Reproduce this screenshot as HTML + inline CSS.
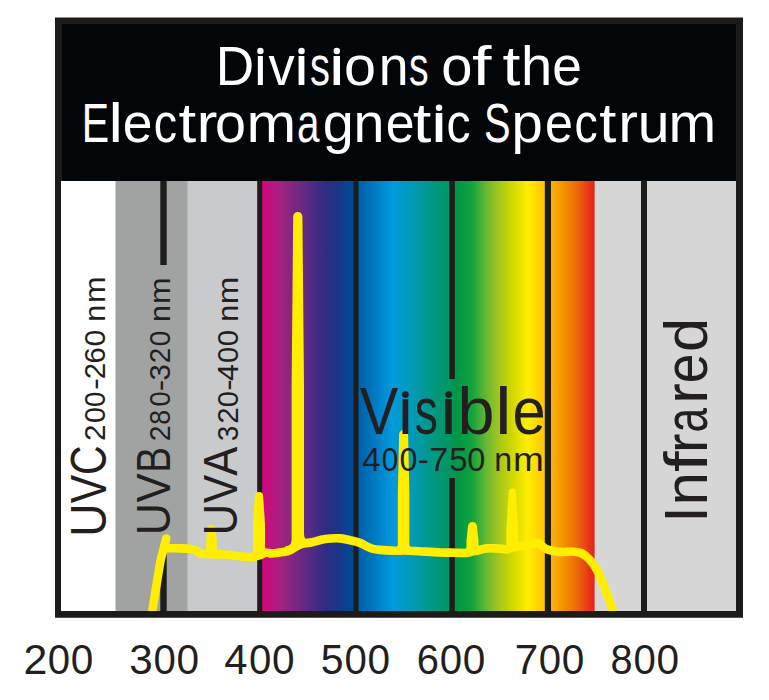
<!DOCTYPE html>
<html><head><meta charset="utf-8"><title>Divisions of the Electromagnetic Spectrum</title>
<style>
html,body{margin:0;padding:0;background:#fff;width:769px;height:700px;overflow:hidden}
svg{display:block}
text{font-family:"Liberation Sans",sans-serif}
</style></head><body>
<svg width="769" height="700" viewBox="0 0 769 700">
<defs>
<linearGradient id="gv" x1="262" x2="354" y1="0" y2="0" gradientUnits="userSpaceOnUse">
<stop offset="0.000" stop-color="#d4067e"/><stop offset="0.043" stop-color="#cc0a7e"/><stop offset="0.196" stop-color="#a42182"/><stop offset="0.299" stop-color="#8a2580"/><stop offset="0.522" stop-color="#552a84"/><stop offset="0.696" stop-color="#2e2c82"/><stop offset="0.848" stop-color="#183789"/><stop offset="0.957" stop-color="#034896"/><stop offset="1.000" stop-color="#004a98"/>
</linearGradient>
<linearGradient id="gb" x1="358" x2="450" y1="0" y2="0" gradientUnits="userSpaceOnUse">
<stop offset="0.000" stop-color="#005fab"/><stop offset="0.033" stop-color="#0063ae"/><stop offset="0.196" stop-color="#007dc5"/><stop offset="0.370" stop-color="#009ade"/><stop offset="0.522" stop-color="#009bc3"/><stop offset="0.674" stop-color="#0398a3"/><stop offset="0.826" stop-color="#019882"/><stop offset="0.946" stop-color="#009767"/><stop offset="1.000" stop-color="#009760"/>
</linearGradient>
<linearGradient id="gg" x1="454" x2="545" y1="0" y2="0" gradientUnits="userSpaceOnUse">
<stop offset="0.000" stop-color="#00944a"/><stop offset="0.044" stop-color="#009746"/><stop offset="0.198" stop-color="#12a33e"/><stop offset="0.352" stop-color="#66b932"/><stop offset="0.505" stop-color="#a8c81a"/><stop offset="0.659" stop-color="#d8da00"/><stop offset="0.813" stop-color="#ffee00"/><stop offset="0.945" stop-color="#ffcf05"/><stop offset="1.000" stop-color="#fdc800"/>
</linearGradient>
<linearGradient id="go" x1="551" x2="595" y1="0" y2="0" gradientUnits="userSpaceOnUse">
<stop offset="0.000" stop-color="#fbb200"/><stop offset="0.068" stop-color="#faad00"/><stop offset="0.341" stop-color="#f28c00"/><stop offset="0.614" stop-color="#ec650c"/><stop offset="0.886" stop-color="#e83016"/><stop offset="1.000" stop-color="#e5231a"/>
</linearGradient>
<linearGradient id="gm" x1="449" x2="455" y1="0" y2="0" gradientUnits="userSpaceOnUse">
<stop offset="0" stop-color="#009762"/><stop offset="1" stop-color="#00954c"/>
</linearGradient>
<clipPath id="cc"><rect x="55" y="181" width="688" height="430"/></clipPath>
</defs>
<rect x="55" y="17.5" width="688" height="600" fill="#1d1b1a"/>
<rect x="62" y="24" width="674" height="157" fill="#030608"/>
<rect x="61" y="181" width="55" height="430" fill="#ffffff"/>
<rect x="115.5" y="181" width="72.5" height="430" fill="#a1a3a2"/>
<rect x="187.5" y="181" width="71" height="430" fill="#c9cacc"/>
<rect x="262" y="181" width="92" height="430" fill="url(#gv)"/>
<rect x="358.3" y="181" width="92" height="430" fill="url(#gb)"/>
<rect x="454.5" y="181" width="91" height="430" fill="url(#gg)"/>
<rect x="551" y="181" width="44" height="430" fill="url(#go)"/>
<rect x="594.6" y="181" width="47" height="430" fill="#d6d6d6"/>
<rect x="647" y="181" width="89" height="430" fill="#d6d6d6"/>
<rect x="449" y="379" width="6" height="99" fill="url(#gm)"/>
<g fill="#1c1c1b">
<rect x="160.3" y="181" width="6.4" height="84"/>
<rect x="160.3" y="549" width="6.4" height="62"/>
<rect x="257.2" y="181" width="5" height="430"/>
<rect x="353.4" y="181" width="4.9" height="430"/>
<rect x="449.3" y="181" width="5.4" height="198"/>
<rect x="449.3" y="478" width="5.4" height="133"/>
<rect x="544.8" y="181" width="6" height="430"/>
<rect x="641" y="181" width="6" height="430"/>
</g>
<g clip-path="url(#cc)">
<g fill="#ffee00">
<path d="M203.10,550.73 Q206.10,550.73 206.10,547.73 L206.10,544.30 L207.10,529.30 A4.40,4.40 0 0 1 215.90,529.30 L216.90,544.30 L216.90,548.00 Q216.90,551.00 219.90,551.00 L219.90,555.00 L203.10,554.73 Z"/>
<path d="M250.00,553.49 Q253.00,553.49 253.00,550.49 L253.00,524.00 L254.90,496.00 A4.10,4.10 0 0 1 263.10,496.00 L265.00,524.00 L265.00,546.89 Q265.00,549.89 268.00,549.89 L268.00,553.89 L250.00,557.49 Z"/>
<path d="M285.60,545.96 Q291.60,545.96 291.60,539.96 L291.60,386.60 L293.20,216.60 A4.60,4.60 0 0 1 302.40,216.60 L304.00,386.60 L304.00,534.31 Q304.00,540.31 310.00,540.31 L310.00,544.31 L285.60,549.96 Z"/>
<path d="M394.80,547.41 Q397.80,547.41 397.80,544.41 L397.80,494.50 L399.10,434.50 A4.50,4.50 0 0 1 408.10,434.50 L409.40,494.50 L409.40,544.45 Q409.40,547.45 412.40,547.45 L412.40,551.45 L394.80,551.41 Z"/>
<path d="M463.50,549.58 Q466.50,549.58 466.50,546.58 L466.50,540.50 L468.00,526.50 A4.50,4.50 0 0 1 477.00,526.50 L478.50,540.50 L478.50,544.08 Q478.50,547.08 481.50,547.08 L481.50,551.08 L463.50,553.58 Z"/>
<path d="M503.30,546.10 Q506.30,546.10 506.30,543.10 L506.30,532.30 L508.60,492.30 A3.70,3.70 0 0 1 516.00,492.30 L518.30,532.30 L518.30,540.16 Q518.30,543.16 521.30,543.16 L521.30,547.16 L503.30,550.10 Z"/>
</g>
<g fill="none" stroke="#ffee00" stroke-width="8.6" stroke-linecap="round" stroke-linejoin="round">
<path d="M166.0,548.3 C167.5,548.3 171.0,548.2 175.0,548.3 C179.0,548.4 186.7,548.4 190.0,548.7 C193.3,549.0 193.3,549.2 195.0,550.0 C196.7,550.8 198.3,552.5 200.0,553.2 C201.7,553.9 200.8,553.8 205.0,554.0 C209.2,554.2 218.3,554.0 225.0,554.5 C231.7,555.0 240.5,556.4 245.0,556.8 C249.5,557.2 249.7,557.2 252.0,557.0 C254.3,556.8 256.7,556.2 259.0,555.5 C261.3,554.8 263.8,553.1 266.0,552.8 C268.2,552.4 269.2,553.5 272.0,553.4 C274.8,553.3 280.0,552.5 283.0,552.0 C286.0,551.5 287.5,551.3 290.0,550.2 C292.5,549.1 295.5,546.6 298.0,545.5 C300.5,544.4 302.7,543.8 305.0,543.3 C307.3,542.8 308.7,543.0 312.0,542.3 C315.3,541.6 320.3,539.6 325.0,539.0 C329.7,538.4 335.8,538.2 340.0,538.4 C344.2,538.6 346.7,539.5 350.0,540.3 C353.3,541.0 357.3,541.9 360.0,542.9 C362.7,543.9 364.0,545.0 366.0,546.0 C368.0,547.0 369.7,548.0 372.0,548.6 C374.3,549.2 376.2,549.5 380.0,549.9 C383.8,550.3 391.0,550.7 395.0,550.8 C399.0,550.9 400.7,550.5 404.0,550.5 C407.3,550.5 409.0,550.7 415.0,551.0 C421.0,551.3 433.3,552.2 440.0,552.5 C446.7,552.8 450.7,552.6 455.0,552.7 C459.3,552.8 463.2,553.2 466.0,553.0 C468.8,552.8 470.0,551.9 472.0,551.5 C474.0,551.1 475.5,551.0 478.0,550.5 C480.5,550.0 483.3,548.7 487.0,548.4 C490.7,548.1 496.8,548.4 500.0,548.6 C503.2,548.8 504.0,549.7 506.0,549.5 C508.0,549.3 510.0,548.0 512.0,547.5 C514.0,547.0 515.0,546.9 518.0,546.5 C521.0,546.1 526.7,545.6 530.0,545.0 C533.3,544.4 535.3,542.3 538.0,543.0 C540.7,543.7 542.3,547.5 546.0,549.0 C549.7,550.5 555.7,551.5 560.0,551.9 C564.3,552.3 568.3,551.2 572.0,551.5 C575.7,551.8 579.0,552.1 582.0,553.5 C585.0,554.9 587.5,557.2 590.0,560.0 C592.5,562.8 594.5,565.3 597.0,570.0 C599.5,574.7 602.3,581.8 604.7,588.0 C607.1,594.2 610.0,602.3 611.5,607.0 C613.0,611.7 613.6,614.5 614.0,616.0"/>
<path d="M151.5,616.0 C152.2,611.3 154.5,597.2 156.0,588.0 C157.5,578.8 159.3,567.3 160.5,561.0 C161.7,554.7 162.4,553.8 163.3,550.0 C164.2,546.2 165.7,540.4 166.2,538.5"/>
</g>
</g>
<rect x="55" y="611" width="688" height="6.5" fill="#1d1b1a"/>
<g fill="#ffffff">
<g font-size="54.8" transform="translate(0,85.20)"><text x="215.64" textLength="38.41" lengthAdjust="spacingAndGlyphs">D</text><text x="252.51" textLength="15.81" lengthAdjust="spacingAndGlyphs">ı</text><text x="268.42" textLength="26.16" lengthAdjust="spacingAndGlyphs">v</text><text x="292.56" textLength="18.02" lengthAdjust="spacingAndGlyphs">ı</text><text x="310.09" textLength="19.95" lengthAdjust="spacingAndGlyphs">s</text><text x="326.70" textLength="20.23" lengthAdjust="spacingAndGlyphs">ı</text><text x="344.08" textLength="32.04" lengthAdjust="spacingAndGlyphs">o</text><text x="378.74" textLength="29.85" lengthAdjust="spacingAndGlyphs">n</text><text x="409.01" textLength="19.61" lengthAdjust="spacingAndGlyphs">s</text><text x="441.24" textLength="31.21" lengthAdjust="spacingAndGlyphs">o</text><text x="472.01" textLength="19.49" lengthAdjust="spacingAndGlyphs">f</text><text x="502.63" textLength="17.84" lengthAdjust="spacingAndGlyphs">t</text><text x="521.10" textLength="31.24" lengthAdjust="spacingAndGlyphs">h</text><text x="552.14" textLength="29.63" lengthAdjust="spacingAndGlyphs">e</text></g>
<g font-size="55.2" transform="translate(0,142.40)"><text x="81.64" textLength="27.32" lengthAdjust="spacingAndGlyphs">E</text><text x="108.53" textLength="14.41" lengthAdjust="spacingAndGlyphs">l</text><text x="122.73" textLength="29.75" lengthAdjust="spacingAndGlyphs">e</text><text x="153.82" textLength="23.31" lengthAdjust="spacingAndGlyphs">c</text><text x="178.43" textLength="17.73" lengthAdjust="spacingAndGlyphs">t</text><text x="196.63" textLength="20.91" lengthAdjust="spacingAndGlyphs">r</text><text x="215.06" textLength="30.98" lengthAdjust="spacingAndGlyphs">o</text><text x="246.44" textLength="49.69" lengthAdjust="spacingAndGlyphs">m</text><text x="296.88" textLength="22.52" lengthAdjust="spacingAndGlyphs">a</text><text x="322.76" textLength="31.04" lengthAdjust="spacingAndGlyphs">g</text><text x="353.51" textLength="30.90" lengthAdjust="spacingAndGlyphs">n</text><text x="385.70" textLength="28.80" lengthAdjust="spacingAndGlyphs">e</text><text x="412.69" textLength="18.60" lengthAdjust="spacingAndGlyphs">t</text><text x="428.79" textLength="20.55" lengthAdjust="spacingAndGlyphs">ı</text><text x="446.56" textLength="24.01" lengthAdjust="spacingAndGlyphs">c</text><text x="483.99" textLength="26.53" lengthAdjust="spacingAndGlyphs">S</text><text x="511.47" textLength="31.29" lengthAdjust="spacingAndGlyphs">p</text><text x="545.06" textLength="27.97" lengthAdjust="spacingAndGlyphs">e</text><text x="574.53" textLength="23.19" lengthAdjust="spacingAndGlyphs">c</text><text x="599.17" textLength="17.08" lengthAdjust="spacingAndGlyphs">t</text><text x="618.27" textLength="19.71" lengthAdjust="spacingAndGlyphs">r</text><text x="637.79" textLength="31.81" lengthAdjust="spacingAndGlyphs">u</text><text x="668.40" textLength="47.67" lengthAdjust="spacingAndGlyphs">m</text></g>
<circle cx="260.40" cy="51.00" r="3.25"/><circle cx="301.50" cy="51.00" r="3.25"/><circle cx="336.80" cy="51.00" r="3.25"/><circle cx="439.00" cy="107.80" r="3.25"/>
</g>
<g fill="#231f20">
<g font-size="49.5" transform="translate(105.50,0) rotate(-90)"><text x="-536.85" textLength="33.19" lengthAdjust="spacingAndGlyphs">U</text><text x="-503.29" textLength="28.48" lengthAdjust="spacingAndGlyphs">V</text><text x="-474.98" textLength="29.65" lengthAdjust="spacingAndGlyphs">C</text></g>
<g font-size="29.8" transform="translate(105.20,0) rotate(-90)"><text x="-441.00" textLength="16.60" lengthAdjust="spacingAndGlyphs">2</text><text x="-423.11" textLength="15.82" lengthAdjust="spacingAndGlyphs">0</text><text x="-406.98" textLength="15.36" lengthAdjust="spacingAndGlyphs">0</text><text x="-390.10" textLength="12.00" lengthAdjust="spacingAndGlyphs">-</text><text x="-379.28" textLength="16.36" lengthAdjust="spacingAndGlyphs">2</text><text x="-363.47" textLength="16.15" lengthAdjust="spacingAndGlyphs">6</text><text x="-346.48" textLength="16.75" lengthAdjust="spacingAndGlyphs">0</text><text x="-321.83" textLength="17.02" lengthAdjust="spacingAndGlyphs">n</text><text x="-302.91" textLength="26.51" lengthAdjust="spacingAndGlyphs">m</text></g>
<g font-size="49" transform="translate(170.00,0) rotate(-90)"><text x="-535.35" textLength="32.30" lengthAdjust="spacingAndGlyphs">U</text><text x="-502.59" textLength="29.18" lengthAdjust="spacingAndGlyphs">V</text><text x="-472.68" textLength="25.82" lengthAdjust="spacingAndGlyphs">B</text></g>
<g font-size="29.8" transform="translate(170.40,0) rotate(-90)"><text x="-441.34" textLength="15.87" lengthAdjust="spacingAndGlyphs">2</text><text x="-424.76" textLength="14.82" lengthAdjust="spacingAndGlyphs">8</text><text x="-406.56" textLength="15.12" lengthAdjust="spacingAndGlyphs">0</text><text x="-391.23" textLength="11.46" lengthAdjust="spacingAndGlyphs">-</text><text x="-380.52" textLength="16.30" lengthAdjust="spacingAndGlyphs">3</text><text x="-363.19" textLength="15.38" lengthAdjust="spacingAndGlyphs">2</text><text x="-346.20" textLength="15.71" lengthAdjust="spacingAndGlyphs">0</text><text x="-322.13" textLength="17.02" lengthAdjust="spacingAndGlyphs">n</text><text x="-304.11" textLength="26.51" lengthAdjust="spacingAndGlyphs">m</text></g>
<g font-size="49" transform="translate(237.30,0) rotate(-90)"><text x="-535.26" textLength="31.41" lengthAdjust="spacingAndGlyphs">U</text><text x="-503.29" textLength="28.48" lengthAdjust="spacingAndGlyphs">V</text><text x="-475.78" textLength="28.97" lengthAdjust="spacingAndGlyphs">A</text></g>
<g font-size="29.8" transform="translate(237.80,0) rotate(-90)"><text x="-440.94" textLength="15.25" lengthAdjust="spacingAndGlyphs">3</text><text x="-423.68" textLength="16.36" lengthAdjust="spacingAndGlyphs">2</text><text x="-407.14" textLength="16.17" lengthAdjust="spacingAndGlyphs">0</text><text x="-390.83" textLength="11.46" lengthAdjust="spacingAndGlyphs">-</text><text x="-380.90" textLength="17.00" lengthAdjust="spacingAndGlyphs">4</text><text x="-362.94" textLength="16.17" lengthAdjust="spacingAndGlyphs">0</text><text x="-346.24" textLength="16.29" lengthAdjust="spacingAndGlyphs">0</text><text x="-321.73" textLength="17.02" lengthAdjust="spacingAndGlyphs">n</text><text x="-304.20" textLength="27.58" lengthAdjust="spacingAndGlyphs">m</text></g>
<g font-size="60.5" transform="translate(707.30,0) rotate(-90)"><text x="-522.74" textLength="16.38" lengthAdjust="spacingAndGlyphs">I</text><text x="-505.59" textLength="33.38" lengthAdjust="spacingAndGlyphs">n</text><text x="-472.05" textLength="20.64" lengthAdjust="spacingAndGlyphs">f</text><text x="-452.88" textLength="19.45" lengthAdjust="spacingAndGlyphs">r</text><text x="-432.48" textLength="24.58" lengthAdjust="spacingAndGlyphs">a</text><text x="-403.79" textLength="20.51" lengthAdjust="spacingAndGlyphs">r</text><text x="-383.37" textLength="29.75" lengthAdjust="spacingAndGlyphs">e</text><text x="-352.08" textLength="34.13" lengthAdjust="spacingAndGlyphs">d</text></g>
<g font-size="67" transform="translate(0,434.00)"><text x="359.65" textLength="38.51" lengthAdjust="spacingAndGlyphs">V</text><text x="396.25" textLength="18.33" lengthAdjust="spacingAndGlyphs">ı</text><text x="414.81" textLength="23.16" lengthAdjust="spacingAndGlyphs">s</text><text x="438.39" textLength="20.55" lengthAdjust="spacingAndGlyphs">ı</text><text x="457.41" textLength="36.98" lengthAdjust="spacingAndGlyphs">b</text><text x="494.94" textLength="16.68" lengthAdjust="spacingAndGlyphs">l</text><text x="512.47" textLength="33.19" lengthAdjust="spacingAndGlyphs">e</text></g>
<circle cx="405.40" cy="394.60" r="3.40"/><circle cx="448.70" cy="394.60" r="3.40"/>
<g font-size="33.5" transform="translate(0,471.20)"><text x="362.34" textLength="18.43" lengthAdjust="spacingAndGlyphs">4</text><text x="381.74" textLength="16.52" lengthAdjust="spacingAndGlyphs">0</text><text x="399.54" textLength="17.92" lengthAdjust="spacingAndGlyphs">0</text><text x="417.84" textLength="10.91" lengthAdjust="spacingAndGlyphs">-</text><text x="429.25" textLength="18.96" lengthAdjust="spacingAndGlyphs">7</text><text x="449.29" textLength="18.18" lengthAdjust="spacingAndGlyphs">5</text><text x="467.23" textLength="18.03" lengthAdjust="spacingAndGlyphs">0</text><text x="494.17" textLength="17.81" lengthAdjust="spacingAndGlyphs">n</text><text x="513.05" textLength="30.79" lengthAdjust="spacingAndGlyphs">m</text></g>
</g>
<g fill="#231f20" font-size="42.5" transform="translate(0,674.2)">
<text x="23.55" textLength="23.81" lengthAdjust="spacingAndGlyphs">2</text>
<text x="47.83" textLength="22.34" lengthAdjust="spacingAndGlyphs">0</text>
<text x="70.81" textLength="22.57" lengthAdjust="spacingAndGlyphs">0</text>
<text x="129.29" textLength="23.46" lengthAdjust="spacingAndGlyphs">3</text>
<text x="153.53" textLength="22.34" lengthAdjust="spacingAndGlyphs">0</text>
<text x="176.51" textLength="22.57" lengthAdjust="spacingAndGlyphs">0</text>
<text x="224.34" textLength="23.29" lengthAdjust="spacingAndGlyphs">4</text>
<text x="249.03" textLength="22.34" lengthAdjust="spacingAndGlyphs">0</text>
<text x="272.01" textLength="22.57" lengthAdjust="spacingAndGlyphs">0</text>
<text x="320.86" textLength="22.76" lengthAdjust="spacingAndGlyphs">5</text>
<text x="344.53" textLength="22.34" lengthAdjust="spacingAndGlyphs">0</text>
<text x="367.51" textLength="22.57" lengthAdjust="spacingAndGlyphs">0</text>
<text x="416.68" textLength="22.18" lengthAdjust="spacingAndGlyphs">6</text>
<text x="439.73" textLength="22.34" lengthAdjust="spacingAndGlyphs">0</text>
<text x="462.71" textLength="22.57" lengthAdjust="spacingAndGlyphs">0</text>
<text x="514.73" textLength="23.49" lengthAdjust="spacingAndGlyphs">7</text>
<text x="538.73" textLength="22.34" lengthAdjust="spacingAndGlyphs">0</text>
<text x="561.71" textLength="22.57" lengthAdjust="spacingAndGlyphs">0</text>
<text x="610.58" textLength="22.05" lengthAdjust="spacingAndGlyphs">8</text>
<text x="633.53" textLength="22.34" lengthAdjust="spacingAndGlyphs">0</text>
<text x="656.51" textLength="22.57" lengthAdjust="spacingAndGlyphs">0</text>
</g>
</svg>
</body></html>
